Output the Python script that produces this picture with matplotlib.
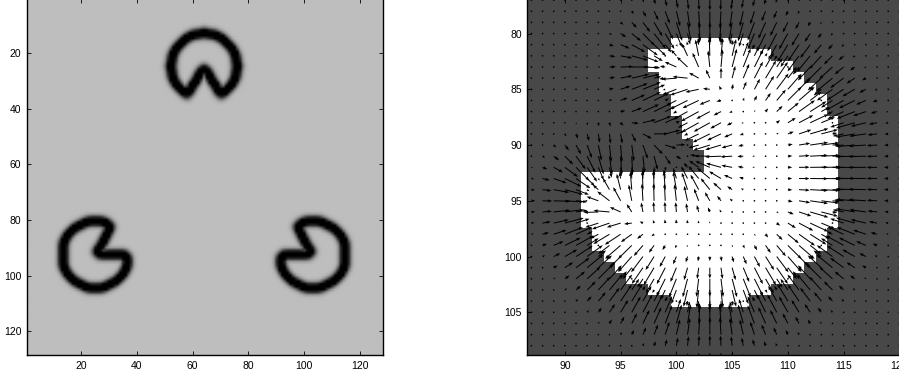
import numpy as np
import matplotlib.pyplot as plt
from matplotlib.colors import ListedColormap

plt.rcParams['font.family'] = ['Liberation Sans', 'DejaVu Sans']

N = 128  # tamanho da imagem

# tres "pacmans" (triangulo de Kanizsa), eixo y para baixo
centro_x = [64, 25, 103]
centro_y = [25, 92.5, 92.5]
raio = 12
boca_ini = [60, -60, -180]  # graus
boca_fim = [120, 0, -120]

ticks_esq = [20, 40, 60, 80, 100, 120]
ticks_dir_x = [90, 95, 100, 105, 110, 115, 120]
ticks_dir_y = [80, 85, 90, 95, 100, 105]

lim_dir_x = (86.63, 120.6)
lim_dir_y = (108.83, 76.9)

sigma = 1.1
sigma_f = 1.3


def suaviza(a, s):
    r = int(4 * s) + 1
    t = np.arange(-r, r + 1)
    k = np.exp(-t ** 2 / (2.0 * s * s))
    k = k / k.sum()
    a = np.apply_along_axis(lambda m: np.convolve(m, k, mode='same'), 0, a)
    a = np.apply_along_axis(lambda m: np.convolve(m, k, mode='same'), 1, a)
    return a


X, Y = np.meshgrid(np.arange(1, N + 1), np.arange(1, N + 1))
mascara = np.zeros((N, N))
for cx, cy, b0, b1 in zip(centro_x, centro_y, boca_ini, boca_fim):
    dx = X - cx
    dy = Y - cy
    ang = np.degrees(np.arctan2(dy, dx))
    disco = np.hypot(dx, dy) <= raio
    boca = (ang >= b0) & (ang <= b1)
    mascara[disco & ~boca] = 1.0

# mapa de bordas
Is = suaviza(mascara, sigma)
gy, gx = np.gradient(Is)
g = np.hypot(gx, gy)
borda = 0.745 * (1 - np.clip(g / (0.6 * g.max()), 0, 1))

# campo de forcas = gradiente do mapa de bordas
f = suaviza(g, sigma_f)
fy, fx = np.gradient(f)
mag = np.hypot(fx, fy)
esc = 1.8 / np.percentile(mag, 99.5)
u = fx * esc
v = fy * esc

fig = plt.figure(figsize=(8.99, 3.75), dpi=100)
W, H = 899.0, 375.0

# painel esquerdo
px = 2.783
ax1 = fig.add_axes([27 / W, 20 / H, 128 * px / W, 128 * px / H])
ax1.imshow(borda, cmap='gray', vmin=0, vmax=1, extent=(0.5, N + 0.5, N + 0.5, 0.5),
           interpolation='bilinear', aspect='auto')
ax1.set_xlim(0.5, N + 0.5)
ax1.set_ylim(N + 0.5, 0.5)
ax1.set_xticks(ticks_esq)
ax1.set_yticks(ticks_esq)

# painel direito (zoom)
px2 = 11.15
w2 = (lim_dir_x[1] - lim_dir_x[0]) * px2
h2 = (lim_dir_y[0] - lim_dir_y[1]) * px2
ax2 = fig.add_axes([527.3 / W, 20 / H, w2 / W, h2 / H])
ax2.imshow(mascara, cmap=ListedColormap(['#484848', 'white']), vmin=0, vmax=1,
           extent=(0.5, N + 0.5, N + 0.5, 0.5), interpolation='nearest', aspect='auto')
sel = (X >= 86) & (X <= 121) & (Y >= 76) & (Y <= 109)
ax2.quiver(X[sel], Y[sel], u[sel], v[sel], angles='xy', scale_units='xy', scale=1,
           units='dots', width=1.0, headwidth=3.2, headlength=4.2, headaxislength=3.8,
           minlength=1.8, color='black', pivot='tail')
ax2.set_xlim(*lim_dir_x)
ax2.set_ylim(*lim_dir_y)
ax2.set_xticks(ticks_dir_x)
ax2.set_yticks(ticks_dir_y)

for ax in (ax1, ax2):
    ax.tick_params(direction='in', top=True, right=True, length=3, width=0.6,
                   labelsize=7.5, pad=4, colors='black')
    for s in ax.spines.values():
        s.set_linewidth(1.0)

fig.savefig('out.png', dpi=100)
